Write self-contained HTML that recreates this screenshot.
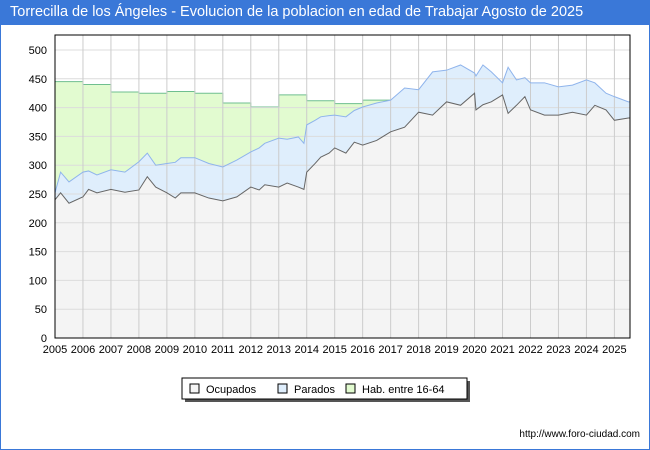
<!DOCTYPE html>
<html><head><meta charset="utf-8"><style>
body{margin:0;width:650px;height:450px;background:#fff;font-family:"Liberation Sans","Noto Sans CJK JP",sans-serif;overflow:hidden}
#title{position:absolute;left:0;top:0;width:640px;padding-left:10px;height:25px;background:#3a78d8;color:#fff;font-size:14.5px;line-height:25px;text-align:left;white-space:nowrap}
#frame{position:absolute;left:0;top:25px;width:648px;height:424px;border:1px solid #3a78d8;border-top:none}
svg{position:absolute;left:0;top:0}
</style></head><body>
<div id="frame"></div>
<div id="title">Torrecilla de los Ángeles - Evolucion de la poblacion en edad de Trabajar Agosto de 2025</div>
<svg id="c" width="650" height="450"></svg>
<script>
const habYears=[2005,2006,2007,2008,2009,2010,2011,2012,2013,2014,2015,2016,2017,2018,2019,2020,2021,2022,2023,2024,2025];
const habValues=[445,440,427,425,428,425,408,401,422,412,407,413,413,412,410,408,405,402,400,398,396];
const dates=[2005,2005.2,2005.5,2006,2006.2,2006.5,2007,2007.5,2008,2008.3,2008.6,2009,2009.3,2009.5,2010,2010.5,2011,2011.5,2012,2012.3,2012.5,2013,2013.3,2013.7,2013.9,2014,2014.3,2014.5,2014.8,2015,2015.4,2015.7,2016,2016.5,2017,2017.5,2018,2018.5,2019,2019.5,2020,2020.05,2020.3,2020.6,2021,2021.2,2021.5,2021.8,2022,2022.5,2023,2023.5,2024,2024.3,2024.7,2025,2025.5];
const ocupados=[240,252,234,245,258,252,258,253,257,280,262,252,243,252,252,243,238,245,262,257,266,262,269,262,258,288,303,314,321,330,321,340,335,343,358,366,392,387,410,404,425,396,405,410,422,390,404,419,396,387,387,392,387,404,396,378,382];
const totals=[252,288,271,288,290,283,292,288,306,321,300,303,305,313,313,303,297,309,323,330,338,347,345,349,338,370,378,384,386,387,384,395,401,408,413,434,431,462,465,474,460,455,474,462,443,470,448,452,443,443,436,439,448,443,425,419,410];
const yTicks=[0,50,100,150,200,250,300,350,400,450,500];
const xTicks=[2005,2006,2007,2008,2009,2010,2011,2012,2013,2014,2015,2016,2017,2018,2019,2020,2021,2022,2023,2024,2025];
const L=55,R=630,T=35,B=338,X0=2005,PPY=27.97,PPU=0.576;
const xs=d=>L+(d-X0)*PPY, ys=v=>B-v*PPU;
const svg=document.getElementById('c');const NS='http://www.w3.org/2000/svg';
function mk(t,a){const e=document.createElementNS(NS,t);for(const k in a)e.setAttribute(k,a[k]);svg.appendChild(e);return e;}
mk('rect',{x:L,y:T,width:R-L,height:B-T,fill:'#fff'});
let hp=`M${L},${B}`;habYears.forEach((y,i)=>{const x1=xs(y),x2=Math.min(R,xs(y+1));hp+=` L${x1},${ys(habValues[i])} L${x2},${ys(habValues[i])}`;});hp+=` L${R},${B} Z`;
let e=mk('path',{d:hp,fill:'#e2fbd0',stroke:'none'});


let hl='';habYears.forEach((y,i)=>{const x1=xs(y),x2=Math.min(R,xs(y+1));hl+=(i?' L':'M')+`${x1},${ys(habValues[i])} L${x2},${ys(habValues[i])}`;});
e=mk('path',{d:hl,fill:'none',stroke:'#6fbf8f','stroke-width':1});


const xEnd=i=>Math.min(R,xs(dates[i]));
let tp=`M${L},${B}`;dates.forEach((d,i)=>tp+=` L${xEnd(i)},${ys(totals[i])}`);tp+=` L${R},${ys(totals[totals.length-1])} L${R},${B} Z`;
e=mk('path',{d:tp,fill:'#dfeefc'});


let op=`M${L},${B}`;dates.forEach((d,i)=>op+=` L${xEnd(i)},${ys(ocupados[i])}`);op+=` L${R},${ys(ocupados[ocupados.length-1])} L${R},${B} Z`;
e=mk('path',{d:op,fill:'#f4f4f4'});


yTicks.forEach(v=>{mk('line',{x1:L,x2:R,y1:ys(v),y2:ys(v),stroke:'#dcdcdc','stroke-width':1});
const t=mk('text',{x:L-8,y:ys(v)+4,'text-anchor':'end','font-size':11,fill:'#000'});t.textContent=v;

});
xTicks.forEach(v=>{mk('line',{x1:xs(v),x2:xs(v),y1:T,y2:B,stroke:'#cccccc','stroke-width':1});
const t=mk('text',{x:xs(v),y:B+15,'text-anchor':'middle','font-size':11,fill:'#000'});t.textContent=v;

});
let tl='';dates.forEach((d,i)=>tl+=(i?' L':'M')+`${xEnd(i)},${ys(totals[i])}`);tl+=` L${R},${ys(totals[totals.length-1])}`;
e=mk('path',{d:tl,fill:'none',stroke:'#8fb4ec','stroke-width':1});


let ol='';dates.forEach((d,i)=>ol+=(i?' L':'M')+`${xEnd(i)},${ys(ocupados[i])}`);ol+=` L${R},${ys(ocupados[ocupados.length-1])}`;
e=mk('path',{d:ol,fill:'none',stroke:'#666','stroke-width':1});


mk('rect',{x:L,y:T,width:R-L,height:B-T,fill:'none',stroke:'#000','stroke-width':1});
mk('rect',{x:185,y:381,width:285,height:21,fill:'#555'});
const lg=mk('rect',{x:182,y:378,width:285,height:21,fill:'#fff',stroke:'#000','stroke-width':1});


[['Ocupados','#f4f4f4',190],['Parados','#dfeefc',278],['Hab. entre 16-64','#e2fbd0',346]].forEach(([n,c,x])=>{
mk('rect',{x:x,y:384,width:9,height:9,fill:c,stroke:'#000','stroke-width':1});
const t=mk('text',{x:x+16,y:393,'font-size':11,fill:'#000'});t.textContent=n;

});
const f=mk('text',{x:640,y:437,'text-anchor':'end','font-size':10,fill:'#000'});f.textContent='http://www.foro-ciudad.com';


</script>
</body></html>
